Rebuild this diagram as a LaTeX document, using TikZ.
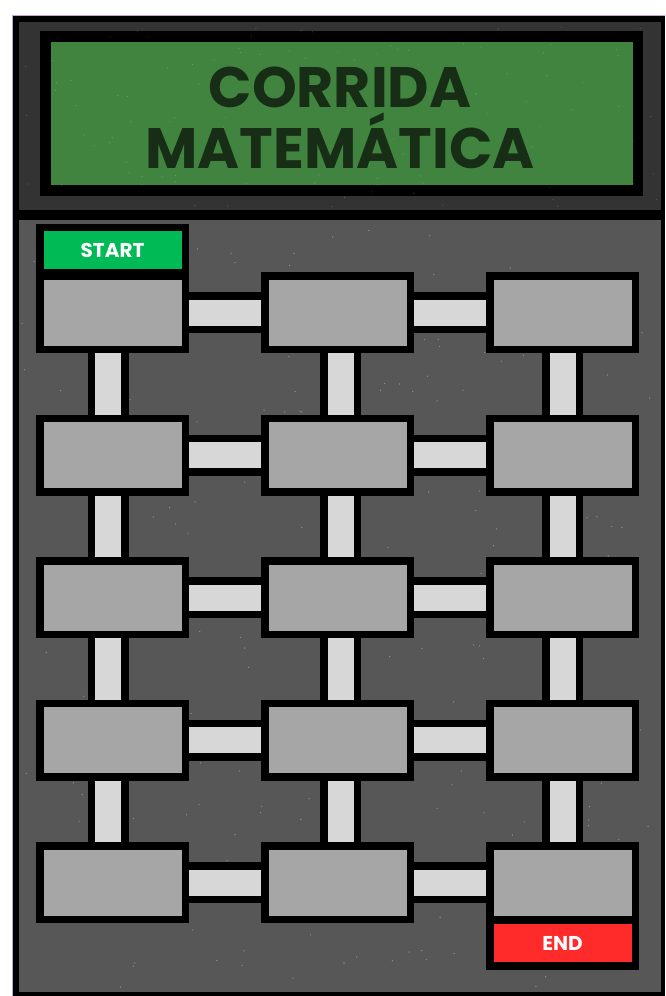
\documentclass[tikz,border=0pt]{standalone}
\usepackage{fontspec}
\newfontfamily\titlefont{Poppins}
\pgfdeclarelayer{boardlayer}
\pgfdeclarelayer{linklayer}
\pgfsetlayers{boardlayer,linklayer,main}
\definecolor{panelgray}{HTML}{333333}
\definecolor{boardgray}{HTML}{575757}
\definecolor{tilegray}{HTML}{A6A6A6}
\definecolor{linkgray}{HTML}{D7D7D7}
\definecolor{titlegreen}{HTML}{41843F}
\definecolor{titletext}{HTML}{172D16}
\definecolor{startgreen}{HTML}{00BB55}
\definecolor{endred}{HTML}{FF2A2A}
\definecolor{framepurple}{HTML}{C8A0DC}
\tikzset{
  tile/.style={rectangle, draw=black, line width=7.5pt, fill=tilegray,
    minimum width=145.5pt, minimum height=73.5pt, inner sep=0pt},
  label box/.style={rectangle, draw=black, line width=7.5pt,
    minimum width=145.5pt, minimum height=45.5pt, inner sep=0pt,
    text=white, font=\titlefont\bfseries\fontsize{20}{20}\selectfont},
  linkout/.style={draw=black, line width=41pt},
  linkin/.style={draw=linkgray, line width=26pt},
  titleline/.style={text=titletext, inner sep=0pt, anchor=base,
    font=\titlefont\bfseries\fontsize{57}{57}\selectfont},
  speck/.style={fill=white, opacity=0.35}
}
\begin{document}
\begin{tikzpicture}[x=1pt, y=-1pt]
\useasboundingbox (0,0) rectangle (665,996);
\begin{pgfonlayer}{boardlayer}
  \fill[white] (0,0) rectangle (665,996);
  % outer frame
  \fill[black] (12,15) rectangle (665,996);
  \draw[framepurple, line width=0.8pt] (12,15) -- (665,15);
  \draw[framepurple, line width=0.8pt] (12,15) -- (12,996);
  % top panel
  \fill[panelgray] (19,22) rectangle (661,210);
  \fill[black] (40,31) rectangle (643,196);
  \fill[titlegreen] (51,42) rectangle (633,185);
  % board
  \fill[boardgray] (19,220) rectangle (661,992);
  \pgfmathsetseed{7}
  \foreach \i in {1,...,260}{
    \pgfmathsetmacro\px{22+636*rnd}
    \pgfmathsetmacro\py{224+764*rnd}
    \fill[speck] (\px,\py) circle (0.7);
  }
  \foreach \i in {1,...,120}{
    \pgfmathsetmacro\px{22+636*rnd}
    \pgfmathsetmacro\py{25+182*rnd}
    \fill[speck, opacity=0.2] (\px,\py) circle (0.6);
  }
\end{pgfonlayer}

% title
\node[titleline] (t1) at (340,107) {CORRIDA};
\node[titleline] (t2) at (340,168) {MATEMÁTICA};

% tiles
\foreach \r/\y in {1/312.5, 2/455, 3/597.5, 4/740, 5/882.5}{
  \foreach \c/\x in {1/112.5, 2/337.5, 3/562.5}{
    \node[tile] (t\r\c) at (\x,\y) {};
  }
}

% start / end
\node[label box, fill=startgreen] (start) at (112.5,250) {START};
\node[label box, fill=endred] (end) at (562.5,943) {END};

% connectors
\begin{pgfonlayer}{linklayer}
  \foreach \r in {1,...,5}{
    \draw[linkout] (t\r1) -- (t\r2);
    \draw[linkout] (t\r2) -- (t\r3);
    \draw[linkin] (t\r1) -- (t\r2);
    \draw[linkin] (t\r2) -- (t\r3);
  }
  \foreach \r/\n in {1/2, 2/3, 3/4, 4/5}{
    \draw[linkout] ([xshift=-4.5pt]t\r1.center) -- ([xshift=-4.5pt]t\n1.center);
    \draw[linkout] ([xshift=3pt]t\r2.center) -- ([xshift=3pt]t\n2.center);
    \draw[linkout] (t\r3) -- (t\n3);
    \draw[linkin] ([xshift=-4.5pt]t\r1.center) -- ([xshift=-4.5pt]t\n1.center);
    \draw[linkin] ([xshift=3pt]t\r2.center) -- ([xshift=3pt]t\n2.center);
    \draw[linkin] (t\r3) -- (t\n3);
  }
\end{pgfonlayer}
\end{tikzpicture}
\end{document}
